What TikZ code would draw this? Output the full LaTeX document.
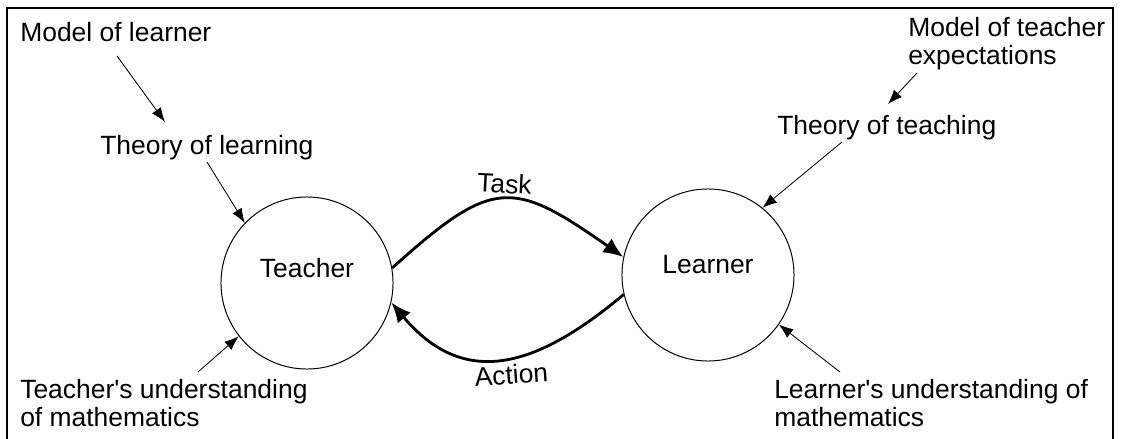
\documentclass[tikz,border=0pt]{standalone}
\usepackage{fontspec}
\setmainfont{Liberation Sans}
\usetikzlibrary{arrows.meta,positioning}

\tikzset{
  lbl/.style={anchor=base west, inner sep=0pt, align=left, font=\fontsize{18.8pt}{20.6pt}\selectfont},
  agent/.style={circle, draw, line width=0.7pt, minimum size=4.3cm, inner sep=0pt},
  feed/.style={-{Latex[length=3.6mm,width=2.7mm]}, line width=0.6pt},
  flow/.style={-{Latex[length=5mm,width=4.2mm]}, line width=2pt},
}

\begin{document}
\begin{tikzpicture}[x=0.025cm, y=-0.025cm]
        \useasboundingbox (0,0) rectangle (1121,439);
        \draw[line width=1.6pt] (7,470) -- (7,8) -- (1113,8) -- (1113,470);
        % the two agents
        \node[agent] (teacher) at (307,283) {};
        \node[agent] (learner) at (708,275) {};
        \node[lbl, anchor=base] (teachertxt) at (307,278) {Teacher};
        \node[lbl, anchor=base] (learnertxt) at (708,274) {Learner};
        % influences (y is the baseline of the last line)
        \foreach \x/\y/\id/\txt in {20/42/mlearner/{Model of learner},100/155/tlearning/{Theory of learning},
                                   908/65/mteacher/{Model of teacher\\expectations},777/135/tteaching/{Theory of teaching},
                                   20/427/tmaths/{Teacher\textquotesingle s understanding\\of mathematics},
                                   774/427/lmaths/{Learner\textquotesingle s understanding of\\mathematics}}{
            \node[lbl] (\id) at (\x,\y) {\txt};}
        \coordinate (mlearner-out) at (117,56);
        \coordinate (tlearning-in) at (165,122);
        \coordinate (tlearning-out) at (207,162);
        \coordinate (mteacher-out) at (917,73);
        \coordinate (tteaching-in) at (888,104);
        \coordinate (tteaching-out) at (842,142);
        \coordinate (tmaths-out) at (198,372);
        \coordinate (lmaths-out) at (840,372);
        \foreach \a/\b in {mlearner-out/tlearning-in,tlearning-out/teacher.136,tmaths-out/teacher.218,
                           mteacher-out/tteaching-in,tteaching-out/learner.51,lmaths-out/learner.-35}{
            \draw[feed] (\a) -- (\b);}
        % task and action
        \draw[flow] (teacher.10) to[out=42,in=145,looseness=1.5] (learner.168);
        \draw[flow] (learner.193) to[out=220,in=-50,looseness=1.25] (teacher.-13);
        \node[lbl, anchor=base, rotate=-3] (task) at (504,193) {Task};
        \node[lbl, anchor=base, rotate=4] (action) at (512,384) {Action};
\end{tikzpicture}
\end{document}
